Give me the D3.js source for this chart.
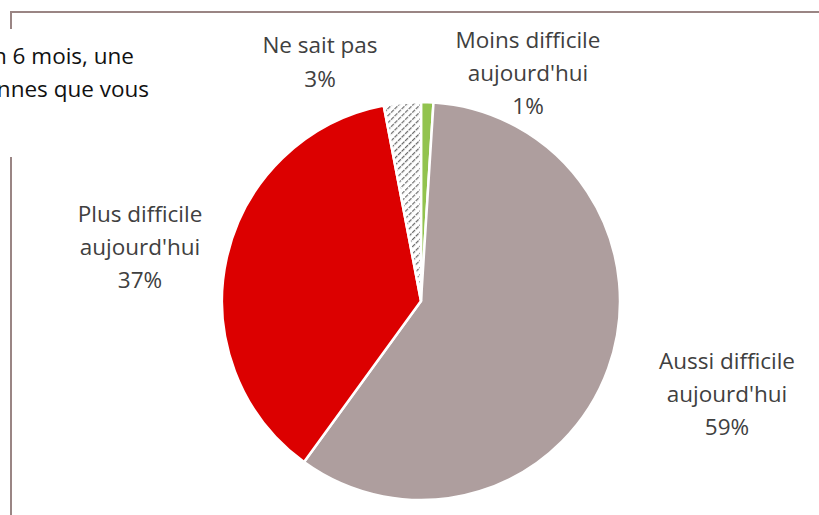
<!DOCTYPE html>
<html lang="fr">
<head>
  <meta charset="UTF-8">
  <title>Difficulté aujourd'hui</title>
  <script src="https://d3js.org/d3.v7.min.js"></script>
  <style>
    body { margin: 0; background: #fff; }
    .label {
      font-family: "Open Sans", sans-serif;
      font-size: 22.5px;
      fill: #404040;
    }
    .title {
      font-family: "Open Sans", sans-serif;
      font-size: 22.5px;
      fill: #111;
    }
  </style>
</head>
<body>
  <svg id="chart" width="819" height="515"></svg>

  <script>
    // data
    const categories = ["Moins difficile aujourd'hui", "Aussi difficile aujourd'hui", "Plus difficile aujourd'hui", "Ne sait pas"];
    const values = [1, 59, 37, 3];
    const colors = ["#92C34E", "#AE9E9E", "#DC0000", "url(#hatch)"];
    const titleLines = ["n 6 mois, une", "nnes que vous"];

    const width = 819, height = 515;
    const cx = 421, cy = 301, radius = 199;

    const svg = d3.select("#chart");

    // hatch pattern for "Ne sait pas"
    const pat = svg.append("defs").append("pattern")
      .attr("id", "hatch")
      .attr("patternUnits", "userSpaceOnUse")
      .attr("width", 5)
      .attr("height", 5)
      .attr("patternTransform", "rotate(45)");
    pat.append("rect").attr("width", 5).attr("height", 5).attr("fill", "#fff");
    pat.append("line")
      .attr("x1", 0).attr("y1", 0).attr("x2", 0).attr("y2", 5)
      .attr("stroke", "#6a6a6a")
      .attr("stroke-width", 2.4)
      .attr("stroke-dasharray", "3,1");

    // frame (partly hidden behind the title box)
    const frame = svg.append("g")
      .attr("stroke", "#9A8584")
      .attr("stroke-width", 2)
      .attr("fill", "none");
    frame.append("path").attr("d", `M11,29 V12 H${width}`);
    frame.append("path").attr("d", `M11,157 V${height}`);

    // title text box, clipped at the left edge
    svg.append("g").selectAll("text")
      .data(titleLines)
      .enter()
      .append("text")
      .attr("class", "title")
      .attr("text-anchor", "end")
      .attr("x", (d, i) => i === 0 ? 134 : 149)
      .attr("y", (d, i) => 64 + i * 33)
      .text(d => d);

    const pie = d3.pie().sort(null).value(d => d);
    const arc = d3.arc().innerRadius(0).outerRadius(radius);
    const arcs = pie(values);

    const g = svg.append("g").attr("transform", `translate(${cx},${cy})`);

    g.selectAll("path")
      .data(arcs)
      .enter()
      .append("path")
      .attr("d", arc)
      .attr("fill", (d, i) => colors[i])
      .attr("stroke", "#fff")
      .attr("stroke-width", 2.5)
      .attr("stroke-linejoin", "round");

    // label positions (centre x, first baseline), as placed in the original
    const labelPos = [[528, 48], [727, 369], [140, 222], [320, 53]];
    const labelLines = [
      ["Moins difficile", "aujourd'hui"],
      ["Aussi difficile", "aujourd'hui"],
      ["Plus difficile", "aujourd'hui"],
      ["Ne sait pas"]
    ];

    const labels = svg.append("g").selectAll("text")
      .data(arcs)
      .enter()
      .append("text")
      .attr("class", "label")
      .attr("text-anchor", "middle")
      .attr("x", (d, i) => labelPos[i][0])
      .attr("y", (d, i) => labelPos[i][1]);

    labels.each(function (d, i) {
      const t = d3.select(this);
      const lines = labelLines[i].concat([d3.format(".0%")(d.value / d3.sum(values))]);
      lines.forEach((s, k) => {
        t.append("tspan")
          .attr("x", labelPos[i][0])
          .attr("dy", k === 0 ? 0 : (i === 3 ? 34 : 33))
          .text(s);
      });
    });
  </script>
</body>
</html>
